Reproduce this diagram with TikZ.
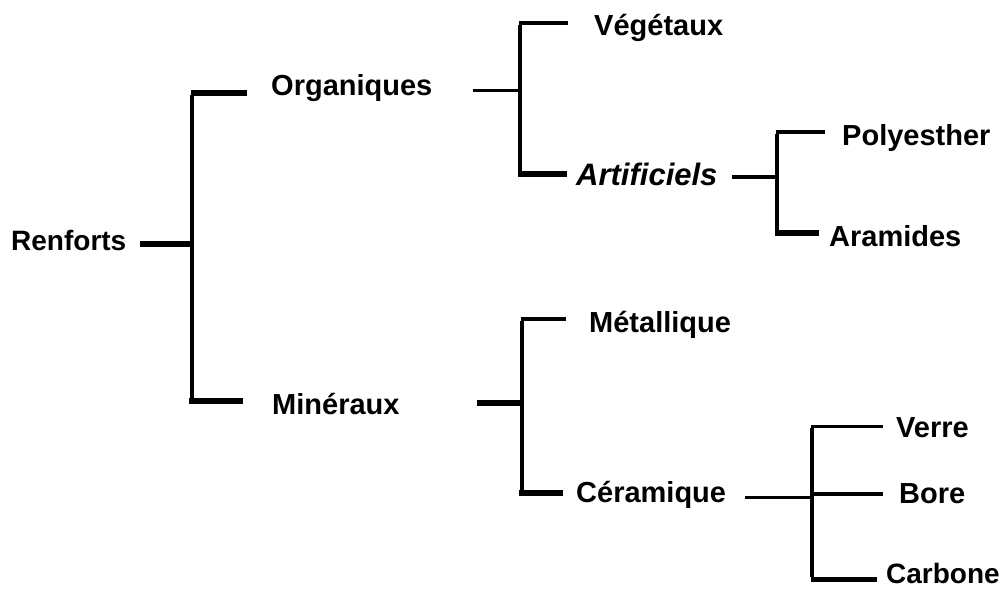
\documentclass[tikz,border=0pt]{standalone}
\usepackage{fontspec}
\setmainfont{Liberation Sans}
\begin{document}
\begin{tikzpicture}[x=1pt,y=-1pt,
  lbl/.style={anchor=base west,inner sep=0pt,font=\fontsize{29}{34}\selectfont\bfseries},
  thinln/.style={line width=3pt},
  midln/.style={line width=3.8pt},
  thickln/.style={line width=6.5pt},
  vln/.style={line width=3.2pt}]
\useasboundingbox (0,0) rectangle (1006,589);
% labels
\node[lbl,font=\fontsize{28}{34}\selectfont\bfseries] (renf) at (11,250) {Renforts};
\node[lbl] (org) at (271,95) {Organiques};
\node[lbl] (veg) at (594,35) {Végétaux};
\node[lbl,font=\fontsize{31}{36}\selectfont\bfseries\itshape] (art) at (576,185) {Artificiels};
\node[lbl] (poly) at (842,145) {Polyesther};
\node[lbl] (ara) at (829,246) {Aramides};
\node[lbl] (min) at (272,414) {Minéraux};
\node[lbl] (met) at (589,332) {Métallique};
\node[lbl] (cer) at (576,502) {Céramique};
\node[lbl] (ver) at (896,437) {Verre};
\node[lbl] (bor) at (899,503) {Bore};
\node[lbl,font=\fontsize{28}{34}\selectfont\bfseries] (car) at (886,583) {Carbone};
% junction coordinates
\coordinate (r0) at (140,244); \coordinate (j0) at (192,244);
\coordinate (j0t) at (192,93); \coordinate (j0b) at (192,401);
\coordinate (s0t) at (247,93); \coordinate (s0b) at (243,401);
\coordinate (o0) at (473,90); \coordinate (j1) at (520,90);
\coordinate (j1t) at (520,23); \coordinate (j1b) at (520,174);
\coordinate (s1t) at (568,23); \coordinate (s1b) at (567,174);
\coordinate (a0) at (732,177); \coordinate (j2) at (777,177);
\coordinate (j2t) at (777,132); \coordinate (j2b) at (777,233);
\coordinate (s2t) at (825,132); \coordinate (s2b) at (819,233);
\coordinate (m0) at (477,403); \coordinate (j3) at (522,403);
\coordinate (j3t) at (522,319); \coordinate (j3b) at (522,493);
\coordinate (s3t) at (566,319); \coordinate (s3b) at (563,493);
\coordinate (c0) at (745,497); \coordinate (j4) at (812,497);
\coordinate (j4t) at (812,426); \coordinate (j4m) at (812,494); \coordinate (j4b) at (812,579);
\coordinate (s4t) at (883,426); \coordinate (s4m) at (883,494); \coordinate (s4b) at (877,579);
% root
\draw[vln] ([yshift=-1.5pt]j0t) -- ([yshift=2pt]j0b);
\draw[thickln] (r0) -- (j0);
\draw[thickln] ([xshift=-1.5pt]j0t) -- (s0t);
\draw[thickln] ([xshift=-3pt]j0b) -- (s0b);
% organiques
\draw[thinln] (o0) -- (j1);
\draw[vln] ([yshift=-1.5pt]j1t) -- ([yshift=2pt]j1b);
\draw[midln] ([xshift=-1.5pt]j1t) -- (s1t);
\draw[thickln] ([xshift=-2pt]j1b) -- (s1b);
% artificiels
\draw[midln] (a0) -- (j2);
\draw[vln] ([yshift=-1.5pt]j2t) -- ([yshift=2pt]j2b);
\draw[midln] ([xshift=-1.5pt]j2t) -- (s2t);
\draw[thickln] ([xshift=-2pt]j2b) -- (s2b);
% mineraux
\draw[thickln] (m0) -- (j3);
\draw[vln] ([yshift=-1.5pt]j3t) -- ([yshift=2pt]j3b);
\draw[midln] ([xshift=-1.5pt]j3t) -- (s3t);
\draw[thickln] ([xshift=-3pt]j3b) -- (s3b);
% ceramique
\draw[thinln] (c0) -- (j4);
\draw[vln] ([yshift=-1.5pt]j4t) -- ([yshift=2pt]j4b);
\draw[thinln] ([xshift=-1.5pt]j4t) -- (s4t);
\draw[midln] (j4m) -- (s4m);
\draw[line width=5pt] ([xshift=-1.5pt]j4b) -- (s4b);
\end{tikzpicture}
\end{document}
